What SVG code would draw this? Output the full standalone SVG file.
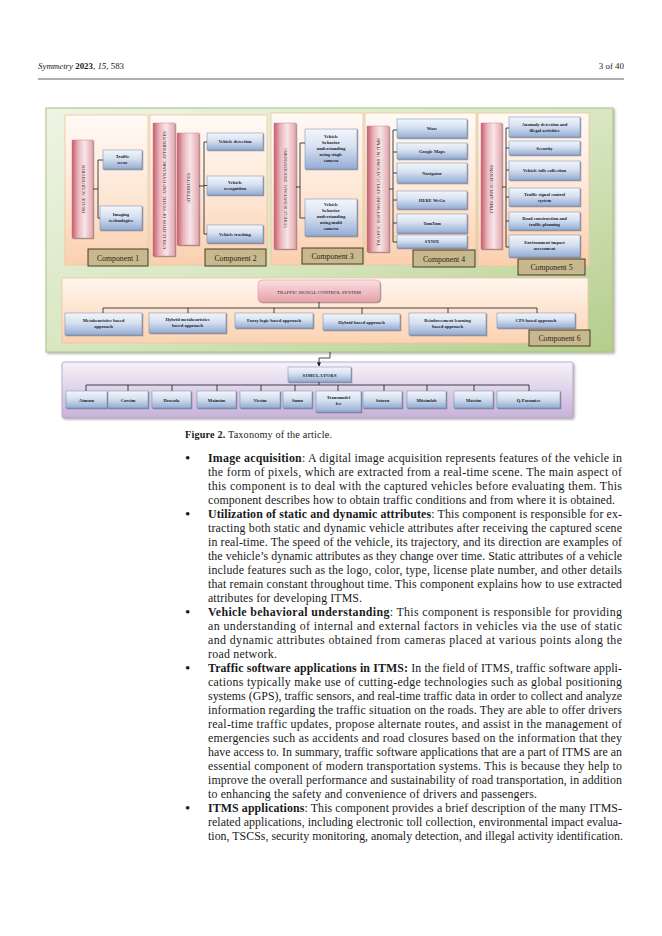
<svg xmlns="http://www.w3.org/2000/svg" width="662" height="936" viewBox="0 0 662 936">
<defs>
<linearGradient id="gBlue" x1="0" y1="0" x2="0" y2="1"><stop offset="0" stop-color="#f3f6fb"/><stop offset="0.45" stop-color="#d6e1f0"/><stop offset="1" stop-color="#94acd4"/></linearGradient>
<linearGradient id="gPink" x1="0" y1="0" x2="1" y2="0"><stop offset="0" stop-color="#c65c6a"/><stop offset="0.3" stop-color="#e9b6bd"/><stop offset="0.6" stop-color="#f8e5e7"/><stop offset="1" stop-color="#e3a6ae"/></linearGradient>
<linearGradient id="gPeach" x1="0" y1="0" x2="0" y2="1"><stop offset="0" stop-color="#fffaf5"/><stop offset="0.55" stop-color="#fee6d4"/><stop offset="1" stop-color="#fbcfae"/></linearGradient>
<linearGradient id="gPeachH" x1="0" y1="0" x2="0" y2="1"><stop offset="0" stop-color="#fff6ee"/><stop offset="1" stop-color="#fbd2b2"/></linearGradient>
<linearGradient id="gGreen" x1="0" y1="0" x2="1" y2="1"><stop offset="0" stop-color="#eef4e4"/><stop offset="0.5" stop-color="#d8e7c2"/><stop offset="1" stop-color="#b4cd8c"/></linearGradient>
<linearGradient id="gLav" x1="0" y1="0" x2="0" y2="1"><stop offset="0" stop-color="#f6f2f9"/><stop offset="1" stop-color="#c6b2d8"/></linearGradient>
<linearGradient id="gTscs" x1="0" y1="0" x2="0" y2="1"><stop offset="0" stop-color="#f9dfe2"/><stop offset="1" stop-color="#e6a2aa"/></linearGradient>
<filter id="sh" x="-20%" y="-20%" width="140%" height="140%"><feDropShadow dx="0.9" dy="0.9" stdDeviation="0.5" flood-color="#3a3a50" flood-opacity="0.55"/></filter>
<filter id="shB" x="-5%" y="-5%" width="110%" height="110%"><feDropShadow dx="1.5" dy="1.5" stdDeviation="1" flood-color="#707070" flood-opacity="0.5"/></filter>
<marker id="arr" viewBox="0 0 10 10" refX="9" refY="5" markerWidth="5" markerHeight="5" orient="auto"><path d="M0,0 L10,5 L0,10 z" fill="#111"/></marker>
</defs>
<style>
.bx{fill:url(#gBlue);stroke:#6f88b4;stroke-width:0.5;filter:url(#sh)}
.bar{fill:url(#gPink);stroke:#c47880;stroke-width:0.4;filter:url(#sh)}
.pan{fill:url(#gPeach);stroke:#f0c49e;stroke-width:0.8}
.cl{fill:#c8b88e;stroke:#463c28;stroke-width:1}
.clt{font-family:"Liberation Serif",serif;font-size:7.8px;fill:#2e2414;text-anchor:middle}
.bt{font-family:"Liberation Serif",serif;font-size:4.6px;font-weight:bold;fill:#1c1c2c;text-anchor:middle}
.vt{font-family:"Liberation Serif",serif;font-size:4.5px;fill:#3a2228;text-anchor:middle}
.cn{fill:none;stroke:#1a1a1a;stroke-width:0.8}
.body{font-family:"Liberation Serif",serif;font-size:11.9px;fill:#1a1a1a}
.bul{font-family:"Liberation Serif",serif;font-size:15px;fill:#1a1a1a}
.b{font-weight:bold}
</style>
<rect width="662" height="936" fill="#ffffff"/>

<g id="header">
<text x="38" y="69" font-family="Liberation Serif, serif" font-size="8.9" fill="#1a1a1a"><tspan font-style="italic">Symmetry</tspan> <tspan font-weight="bold">2023</tspan>, <tspan font-style="italic">15</tspan>, 583</text>
<text x="624" y="69" font-family="Liberation Serif, serif" font-size="8.9" fill="#1a1a1a" text-anchor="end">3 of 40</text>
<line x1="38" y1="79" x2="624" y2="79" stroke="#1a1a1a" stroke-width="0.7"/>
</g>

<g id="frame">
<rect x="46" y="108" width="567" height="244" fill="url(#gGreen)" stroke="#a9c280" stroke-width="1" filter="url(#shB)"/>
</g>

<g id="component1">
<rect class="pan" x="65" y="115" width="83" height="150"/>
<rect class="bar" x="72" y="140" width="21" height="98"/>
<text class="vt" transform="translate(84.5,189) rotate(-90)" textLength="48" lengthAdjust="spacingAndGlyphs">IMAGE ACQUISITION</text>
<rect class="bx" x="103" y="150" width="39" height="19"/>
<text class="bt" x="122.5" y="158">Traffic</text>
<text class="bt" x="122.5" y="164">scene</text>
<rect class="bx" x="100" y="206" width="42" height="24"/>
<text class="bt" x="121" y="216">Imaging</text>
<text class="bt" x="121" y="222">technologies</text>
<rect class="cl" x="88" y="249" width="60" height="17"/>
<text class="clt" x="118" y="260.5">Component 1</text>
</g>

<g id="component2">
<rect class="pan" x="150" y="115" width="117" height="150"/>
<rect class="bar" x="153" y="123" width="22" height="133"/>
<text class="vt" transform="translate(165.5,190) rotate(-90)" textLength="118" lengthAdjust="spacingAndGlyphs">UTILIZATION OF STATIC AND DYNAMIC ATTRIBUTES</text>
<rect class="bar" x="177" y="133" width="22" height="112"/>
<text class="vt" transform="translate(189.5,188) rotate(-90)" textLength="30" lengthAdjust="spacingAndGlyphs">ATTRIBUTES</text>
<rect class="bx" x="207" y="133" width="56" height="17"/>
<text class="bt" x="235" y="143">Vehicle detection</text>
<rect class="bx" x="207" y="176" width="56" height="19"/>
<text class="bt" x="235" y="184">Vehicle</text>
<text class="bt" x="235" y="190">recognition</text>
<rect class="bx" x="207" y="225" width="56" height="18"/>
<text class="bt" x="235" y="235.5">Vehicle tracking</text>
<rect class="cl" x="205" y="249" width="61" height="17"/>
<text class="clt" x="235.5" y="260.5">Component 2</text>
</g>

<g id="component3">
<rect class="pan" x="271" y="113" width="92" height="152"/>
<rect class="bar" x="274" y="123" width="22" height="126"/>
<text class="vt" transform="translate(286.5,188) rotate(-90)" textLength="80" lengthAdjust="spacingAndGlyphs">VEHICLE BEHAVIORAL UNDERSTANDING</text>
<rect class="bx" x="305" y="129" width="52" height="40"/>
<text class="bt" x="331" y="137.5">Vehicle</text>
<text class="bt" x="331" y="143.5">behavior</text>
<text class="bt" x="331" y="149.5">understanding</text>
<text class="bt" x="331" y="155.5">using single</text>
<text class="bt" x="331" y="161.5">camera</text>
<rect class="bx" x="305" y="199" width="52" height="37"/>
<text class="bt" x="331" y="205.5">Vehicle</text>
<text class="bt" x="331" y="211.5">behavior</text>
<text class="bt" x="331" y="217.5">understanding</text>
<text class="bt" x="331" y="223.5">using multi</text>
<text class="bt" x="331" y="229.5">camera</text>
<rect class="cl" x="302" y="248" width="61" height="16"/>
<text class="clt" x="332.5" y="259">Component 3</text>
</g>

<g id="component4">
<rect class="pan" x="365" y="113" width="111" height="152"/>
<rect class="bar" x="367" y="126" width="22" height="126"/>
<text class="vt" transform="translate(379.5,192) rotate(-90)" textLength="108" lengthAdjust="spacingAndGlyphs">TRAFFIC SOFTWARE APPLICATIONS IN ITMS</text>
<rect class="bx" x="397" y="119" width="70" height="19"/>
<text class="bt" x="432" y="130">Waze</text>
<rect class="bx" x="397" y="143" width="70" height="16"/>
<text class="bt" x="432" y="152.5">Google Maps</text>
<rect class="bx" x="397" y="163" width="70" height="20"/>
<text class="bt" x="432" y="174.5">Navigator</text>
<rect class="bx" x="397" y="191" width="70" height="18"/>
<text class="bt" x="432" y="201.5">HERE WeGo</text>
<rect class="bx" x="397" y="214" width="70" height="19"/>
<text class="bt" x="432" y="225">TomTom</text>
<rect class="bx" x="397" y="235" width="70" height="13"/>
<text class="bt" x="432" y="243">SYNIX</text>
<rect class="cl" x="413" y="250" width="62" height="17"/>
<text class="clt" x="444" y="261.5">Component 4</text>
</g>

<g id="component5">
<rect class="pan" x="478" y="113" width="111" height="153"/>
<rect class="bar" x="481" y="123" width="21" height="126"/>
<text class="vt" transform="translate(493,189) rotate(-90)" textLength="48" lengthAdjust="spacingAndGlyphs">ITMS APPLICATIONS</text>
<rect class="bx" x="509" y="117" width="71" height="20"/>
<text class="bt" x="544.5" y="125.5">Anomaly detection and</text>
<text class="bt" x="544.5" y="131.5">illegal activities</text>
<rect class="bx" x="509" y="141" width="71" height="14"/>
<text class="bt" x="544.5" y="149.5">Security</text>
<rect class="bx" x="509" y="161" width="71" height="19"/>
<text class="bt" x="544.5" y="172">Vehicle tolls collection</text>
<rect class="bx" x="509" y="188" width="71" height="18"/>
<text class="bt" x="544.5" y="196">Traffic signal control</text>
<text class="bt" x="544.5" y="202">system</text>
<rect class="bx" x="509" y="212" width="71" height="18"/>
<text class="bt" x="544.5" y="220">Road construction and</text>
<text class="bt" x="544.5" y="226">traffic planning</text>
<rect class="bx" x="509" y="235" width="71" height="22"/>
<text class="bt" x="544.5" y="244">Environment impact</text>
<text class="bt" x="544.5" y="250">assessment</text>
<rect class="cl" x="518" y="259" width="67" height="16"/>
<text class="clt" x="551.5" y="270">Component 5</text>
</g>

<g id="component6">
<rect x="62" y="278" width="526" height="65" fill="url(#gPeachH)" stroke="#f0c49e" stroke-width="0.8"/>
<rect x="258" y="280" width="122" height="22" rx="4" fill="url(#gTscs)" stroke="#d48e96" stroke-width="0.5" filter="url(#sh)"/>
<text class="vt" x="319" y="294" textLength="84" lengthAdjust="spacingAndGlyphs" fill="#3a2228">TRAFFIC SIGNAL CONTROL SYSTEM</text>
<rect class="bx" x="65" y="313" width="77" height="22"/>
<text class="bt" x="103.5" y="322">Metaheuristics based</text>
<text class="bt" x="103.5" y="328">approach</text>
<rect class="bx" x="149" y="313" width="77" height="20"/>
<text class="bt" x="187.5" y="321">Hybrid metaheuristics</text>
<text class="bt" x="187.5" y="327">based approach</text>
<rect class="bx" x="235" y="313" width="78" height="15"/>
<text class="bt" x="274" y="322">Fuzzy logic based approach</text>
<rect class="bx" x="323" y="314" width="77" height="16"/>
<text class="bt" x="361.5" y="323.5">Hybrid based approach</text>
<rect class="bx" x="409" y="313" width="77" height="22"/>
<text class="bt" x="447.5" y="322">Reinforcement learning</text>
<text class="bt" x="447.5" y="328">based approach</text>
<rect class="bx" x="497" y="313" width="78" height="15"/>
<text class="bt" x="536" y="322" font-weight="normal">CPS based approach</text>
<rect class="cl" x="529" y="330" width="61" height="16"/>
<text class="clt" x="559.5" y="341">Component 6</text>
</g>

<g id="simulators">
<rect x="62" y="362" width="511" height="56" rx="2" fill="url(#gLav)" stroke="#ad9cc0" stroke-width="0.8" filter="url(#shB)"/>
<rect class="bx" x="288" y="367" width="63" height="15"/>
<text class="bt" x="319.5" y="376.5" textLength="34" lengthAdjust="spacing">SIMULATORS</text>
<rect class="bx" x="66" y="391" width="41" height="17"/><text class="bt" x="86.5" y="401.5">Aimsun</text>
<rect class="bx" x="108" y="391" width="40" height="17"/><text class="bt" x="128" y="401.5">Corsim</text>
<rect class="bx" x="152" y="391" width="39" height="17"/><text class="bt" x="171.5" y="401.5">Dracula</text>
<rect class="bx" x="197" y="391" width="39" height="17"/><text class="bt" x="216.5" y="401.5">Mainsim</text>
<rect class="bx" x="240" y="391" width="40" height="17"/><text class="bt" x="260" y="401.5">Vissim</text>
<rect class="bx" x="283" y="391" width="29" height="17"/><text class="bt" x="297.5" y="401.5">Sumo</text>
<rect class="bx" x="316" y="391" width="45" height="21"/><text class="bt" x="338.5" y="399">Transmodel</text><text class="bt" x="338.5" y="405">ler</text>
<rect class="bx" x="363" y="391" width="39" height="17"/><text class="bt" x="382.5" y="401.5">Saturn</text>
<rect class="bx" x="407" y="391" width="39" height="17"/><text class="bt" x="426.5" y="401.5">Mitsimlab</text>
<rect class="bx" x="454" y="391" width="39" height="17"/><text class="bt" x="473.5" y="401.5">Matsim</text>
<rect class="bx" x="497" y="391" width="63" height="17"/><text class="bt" x="528.5" y="401.5">Q-Paramics</text>
</g>

<g id="connectors">
<path class="cn" d="M93,189 H98 M98,160 V218 M98,160 H103 M98,218 H100"/>
<path class="cn" d="M199,186 H204 M204,142 V234 M204,142 H207 M204,185.5 H207 M204,234 H207"/>
<path class="cn" d="M296,187 H300 M300,143 V218 M300,143 H305 M300,218 H305"/>
<path class="cn" d="M389,189 H393 M393,130 V242 M393,130 H397 M393,152 H397 M393,173 H397 M393,200 H397 M393,223 H397 M393,242 H397"/>
<path class="cn" d="M502,187 H506 M506,128 V247 M506,128 H509 M506,148 H509 M506,170 H509 M506,197 H509 M506,221 H509 M506,247 H509"/>
<path class="cn" d="M319,302 V308 M103,308 H537 M103,308 V313 M188,308 V313 M274,308 V313 M362,308 V314 M448,308 V313 M537,308 V313"/>
<path class="cn" d="M330,352 V358 H319 V366" marker-end="url(#arr)"/>
<path class="cn" d="M319,382 V385 M86,385 H529 M86,385 V391 M128,385 V391 M172,385 V391 M217,385 V391 M261,385 V391 M295,385 V391 M338,385 V391 M384,385 V391 M427,385 V391 M474,385 V391 M529,385 V391"/>
</g>

<g id="caption">
<text x="185" y="438" font-family="Liberation Serif, serif" font-size="10.2" fill="#1a1a1a" textLength="147" lengthAdjust="spacing"><tspan font-weight="bold">Figure 2.</tspan> Taxonomy of the article.</text>
</g>

<g id="bodytext" class="body">
<text class="bul" x="185" y="463">•</text>
<text class="bul" x="185" y="519">•</text>
<text class="bul" x="185" y="617">•</text>
<text class="bul" x="185" y="673">•</text>
<text class="bul" x="185" y="813">•</text>
<text x="208" y="462" textLength="414" lengthAdjust="spacing"><tspan class="b">Image acquisition</tspan>: A digital image acquisition represents features of the vehicle in</text>
<text x="208" y="476" textLength="414" lengthAdjust="spacing">the form of pixels, which are extracted from a real-time scene. The main aspect of</text>
<text x="208" y="490" textLength="414" lengthAdjust="spacing">this component is to deal with the captured vehicles before evaluating them. This</text>
<text x="208" y="504" textLength="407" lengthAdjust="spacing">component describes how to obtain traffic conditions and from where it is obtained.</text>
<text x="208" y="518" textLength="414" lengthAdjust="spacing"><tspan class="b">Utilization of static and dynamic attributes</tspan>: This component is responsible for ex-</text>
<text x="208" y="532" textLength="414" lengthAdjust="spacing">tracting both static and dynamic vehicle attributes after receiving the captured scene</text>
<text x="208" y="546" textLength="414" lengthAdjust="spacing">in real-time. The speed of the vehicle, its trajectory, and its direction are examples of</text>
<text x="208" y="560" textLength="414" lengthAdjust="spacing">the vehicle’s dynamic attributes as they change over time. Static attributes of a vehicle</text>
<text x="208" y="574" textLength="414" lengthAdjust="spacing">include features such as the logo, color, type, license plate number, and other details</text>
<text x="208" y="588" textLength="414" lengthAdjust="spacing">that remain constant throughout time. This component explains how to use extracted</text>
<text x="208" y="602" textLength="154" lengthAdjust="spacing">attributes for developing ITMS.</text>
<text x="208" y="616" textLength="414" lengthAdjust="spacing"><tspan class="b">Vehicle behavioral understanding</tspan>: This component is responsible for providing</text>
<text x="208" y="630" textLength="414" lengthAdjust="spacing">an understanding of internal and external factors in vehicles via the use of static</text>
<text x="208" y="644" textLength="414" lengthAdjust="spacing">and dynamic attributes obtained from cameras placed at various points along the</text>
<text x="208" y="658" textLength="69" lengthAdjust="spacing">road network.</text>
<text x="208" y="672" textLength="414" lengthAdjust="spacing"><tspan class="b">Traffic software applications in ITMS:</tspan> In the field of ITMS, traffic software appli-</text>
<text x="208" y="686" textLength="414" lengthAdjust="spacing">cations typically make use of cutting-edge technologies such as global positioning</text>
<text x="208" y="700" textLength="414" lengthAdjust="spacing">systems (GPS), traffic sensors, and real-time traffic data in order to collect and analyze</text>
<text x="208" y="714" textLength="414" lengthAdjust="spacing">information regarding the traffic situation on the roads. They are able to offer drivers</text>
<text x="208" y="728" textLength="414" lengthAdjust="spacing">real-time traffic updates, propose alternate routes, and assist in the management of</text>
<text x="208" y="742" textLength="414" lengthAdjust="spacing">emergencies such as accidents and road closures based on the information that they</text>
<text x="208" y="756" textLength="414" lengthAdjust="spacing">have access to. In summary, traffic software applications that are a part of ITMS are an</text>
<text x="208" y="770" textLength="414" lengthAdjust="spacing">essential component of modern transportation systems. This is because they help to</text>
<text x="208" y="784" textLength="414" lengthAdjust="spacing">improve the overall performance and sustainability of road transportation, in addition</text>
<text x="208" y="798" textLength="329" lengthAdjust="spacing">to enhancing the safety and convenience of drivers and passengers.</text>
<text x="208" y="812" textLength="414" lengthAdjust="spacing"><tspan class="b">ITMS applications</tspan>: This component provides a brief description of the many ITMS-</text>
<text x="208" y="826" textLength="414" lengthAdjust="spacing">related applications, including electronic toll collection, environmental impact evalua-</text>
<text x="208" y="840" textLength="415" lengthAdjust="spacing">tion, TSCSs, security monitoring, anomaly detection, and illegal activity identification.</text>
</g>
</svg>
